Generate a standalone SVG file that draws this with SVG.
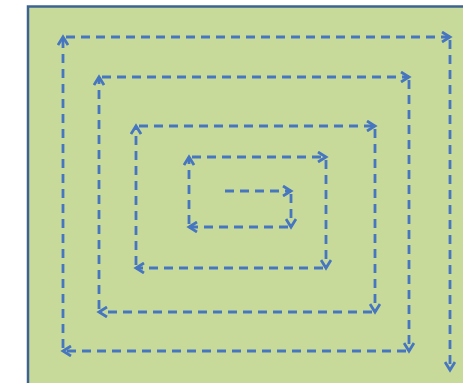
<svg xmlns="http://www.w3.org/2000/svg" width="463" height="383" viewBox="0 0 463 383">
<defs>
<style>
.bg{fill:#c8da9a;stroke:#3d6490;stroke-width:2.5}
.c line{stroke:#4676c0;stroke-width:2.8;stroke-dasharray:9 6;fill:none;marker-end:url(#ah)}
</style>
<marker id="ah" markerUnits="userSpaceOnUse" markerWidth="12" markerHeight="12" refX="9" refY="6" orient="auto">
<path d="M1,1 L9,6 L1,11" fill="none" stroke="#4676c0" stroke-width="2.8" stroke-linejoin="miter"/>
</marker>
</defs>
<rect x="0" y="0" width="463" height="383" fill="#ffffff"/>
<rect class="bg" x="28" y="6.5" width="440" height="380"/>
<g id="connectors" class="c">
<line x1="225" y1="191" x2="291" y2="191"/>
<line x1="291" y1="194" x2="291" y2="227"/>
<line x1="288" y1="227" x2="189" y2="227"/>
<line x1="189" y1="224" x2="189" y2="157"/>
<line x1="192" y1="157" x2="326" y2="157"/>
<line x1="326" y1="160" x2="326" y2="268"/>
<line x1="323" y1="268" x2="136" y2="268"/>
<line x1="136" y1="265" x2="136" y2="126"/>
<line x1="139" y1="126" x2="375" y2="126"/>
<line x1="375" y1="129" x2="375" y2="312"/>
<line x1="372" y1="312" x2="99" y2="312"/>
<line x1="99" y1="309" x2="99" y2="77"/>
<line x1="102" y1="77" x2="409" y2="77"/>
<line x1="409" y1="80" x2="409" y2="351"/>
<line x1="406" y1="351" x2="63" y2="351"/>
<line x1="63" y1="348" x2="63" y2="37"/>
<line x1="66" y1="37" x2="450" y2="37"/>
<line x1="450" y1="40" x2="450" y2="370"/>
</g>
</svg>
